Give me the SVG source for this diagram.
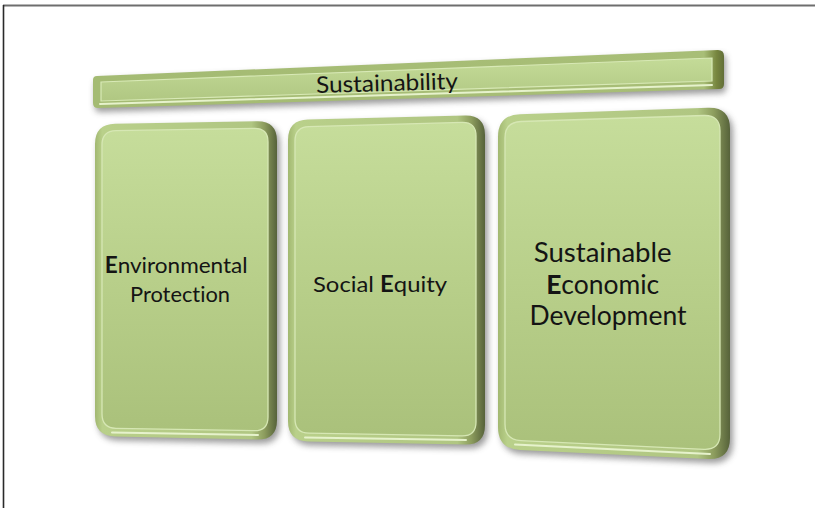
<svg xmlns="http://www.w3.org/2000/svg" width="815" height="508" viewBox="0 0 815 508">
  <defs>
    <style>
      .label { font-family: Lato, "Liberation Sans", Arial, sans-serif; font-variant-ligatures: none; fill: #141414; text-anchor: middle; }
      .label .cap { font-weight: bold; }
      .shadow { fill: #4a4a4a; opacity: 0.55; filter: url(#soft); }
      .body { fill: url(#bodyGrad); }
      .face { fill: url(#faceGrad); stroke: #d6e7b4; stroke-width: 1.3; }
      .gleam { fill: none; stroke: #e6f2cc; stroke-width: 2; stroke-linecap: round; filter: url(#softer); }
    </style>
    <filter id="soft" x="-10%" y="-10%" width="130%" height="130%">
      <feGaussianBlur stdDeviation="3"/>
    </filter>
    <filter id="softer" x="-10%" y="-50%" width="120%" height="200%">
      <feGaussianBlur stdDeviation="0.6"/>
    </filter>
    <!-- bevelled card body: light left rim, dark 3D right side -->
    <linearGradient id="bodyGrad" x1="0" y1="0" x2="1" y2="0">
      <stop offset="0" stop-color="#a2b871"/>
      <stop offset="0.04" stop-color="#b9d08a"/>
      <stop offset="0.86" stop-color="#b0c682"/>
      <stop offset="0.93" stop-color="#8d9d5e"/>
      <stop offset="1" stop-color="#56623a"/>
    </linearGradient>
    <linearGradient id="faceGrad" x1="0" y1="0" x2="0" y2="1">
      <stop offset="0" stop-color="#c6dd9b"/>
      <stop offset="0.5" stop-color="#b8cf8a"/>
      <stop offset="1" stop-color="#aac17b"/>
    </linearGradient>
    <linearGradient id="bannerBody" gradientUnits="userSpaceOnUse" x1="93" y1="0" x2="726" y2="0">
      <stop offset="0" stop-color="#a4bb73"/>
      <stop offset="0.965" stop-color="#a8be77"/>
      <stop offset="0.985" stop-color="#77863f"/>
      <stop offset="1" stop-color="#5c6836"/>
    </linearGradient>
    <linearGradient id="bannerFace" x1="0" y1="0" x2="0" y2="1">
      <stop offset="0" stop-color="#c4db98"/>
      <stop offset="1" stop-color="#b0c782"/>
    </linearGradient>
  </defs>

  <rect width="815" height="508" fill="#ffffff"/>

  <!-- frame -->
  <line x1="3" y1="5.5" x2="815" y2="5.5" stroke="#6e6e6e" stroke-width="2"/>
  <line x1="3.5" y1="5" x2="3.5" y2="508" stroke="#2a2a2a" stroke-width="1.6"/>

  <g id="connectors"/>

  <!-- top banner -->
  <g id="sustainability">
    <path class="shadow" transform="translate(2,4)" d="M97,76 L718,50 Q724,50 724,56 L724,84 Q724,89 719,89 L98,108 Q93,108 93,103 L93,80 Q93,76 97,76Z"/>
    <path fill="url(#bannerBody)" d="M97,76 L718,50 Q724,50 724,56 L724,84 Q724,89 719,89 L98,108 Q93,108 93,103 L93,80 Q93,76 97,76Z"/>
    <path fill="url(#bannerFace)" stroke="#d8e9b6" stroke-width="1.2" d="M101,82 L712,58 L712,81 L101,101Z"/>
    <path class="gleam" d="M100,104 L712,85"/>
    <text class="label" x="387" y="91" font-size="23" textLength="142" lengthAdjust="spacingAndGlyphs" transform="rotate(-1.6 387 84)">Sustainability</text>
  </g>

  <!-- pillar 1 -->
  <g id="environmental-protection">
    <path class="shadow" transform="translate(3,4)" d="M115,123.7 L257,121.3 Q277,121 277,141 L277,420 Q277,440 257,439.6 L115,436.4 Q95,436 95,416 L95,144 Q95,124 115,123.7Z"/>
    <path class="body" d="M115,123.7 L257,121.3 Q277,121 277,141 L277,420 Q277,440 257,439.6 L115,436.4 Q95,436 95,416 L95,144 Q95,124 115,123.7Z"/>
    <path class="face" d="M116,130.7 L254,128.3 Q268,128 268,142 L268,417 Q268,431 254,430.7 L116,428.3 Q102,428 102,414 L102,145 Q102,131 116,130.7Z"/>
    <path class="gleam" d="M112,432.5 L258,435"/>
    <text class="label" font-size="22">
      <tspan x="179" y="273" textLength="143" lengthAdjust="spacingAndGlyphs"><tspan class="cap">E</tspan>nvironmental</tspan>
      <tspan x="180" y="302" textLength="100" lengthAdjust="spacingAndGlyphs">Protection</tspan>
    </text>
  </g>

  <!-- pillar 2 -->
  <g id="social-equity">
    <path class="shadow" transform="translate(3,4)" d="M308,119.5 L465,115.5 Q485,115 485,135 L485,425 Q485,445 465,444.6 L308,441.4 Q288,441 288,421 L288,140 Q288,120 308,119.5Z"/>
    <path class="body" d="M308,119.5 L465,115.5 Q485,115 485,135 L485,425 Q485,445 465,444.6 L308,441.4 Q288,441 288,421 L288,140 Q288,120 308,119.5Z"/>
    <path class="face" d="M309,126.6 L462,122.4 Q476,122 476,136 L476,422 Q476,436 462,435.8 L309,433.2 Q295,433 295,419 L295,141 Q295,127 309,126.6Z"/>
    <path class="gleam" d="M305,437.5 L466,440"/>
    <text class="label" font-size="22">
      <tspan x="380" y="292" textLength="134" lengthAdjust="spacingAndGlyphs">Social <tspan class="cap">E</tspan>quity</tspan>
    </text>
  </g>

  <!-- pillar 3 -->
  <g id="sustainable-economic-development">
    <path class="shadow" transform="translate(3,4)" d="M520,114.2 L708,107.8 Q730,107 730,129 L730,438 Q730,460 708,459 L520,450 Q498,449 498,427 L498,137 Q498,115 520,114.2Z"/>
    <path class="body" d="M520,114.2 L708,107.8 Q730,107 730,129 L730,438 Q730,460 708,459 L520,450 Q498,449 498,427 L498,137 Q498,115 520,114.2Z"/>
    <path class="face" d="M521,121.5 L704,115.5 Q720,115 720,131 L720,434 Q720,450 704,449.3 L521,440.7 Q505,440 505,424 L505,138 Q505,122 521,121.5Z"/>
    <path class="gleam" d="M515,444.5 L710,454"/>
    <text class="label" font-size="26">
      <tspan x="606" y="262" textLength="138" lengthAdjust="spacingAndGlyphs">Sustainable</tspan>
      <tspan x="606" y="294" textLength="113" lengthAdjust="spacingAndGlyphs"><tspan class="cap">E</tspan>conomic</tspan>
      <tspan x="608" y="325" textLength="157" lengthAdjust="spacingAndGlyphs">Development</tspan>
    </text>
  </g>
</svg>
